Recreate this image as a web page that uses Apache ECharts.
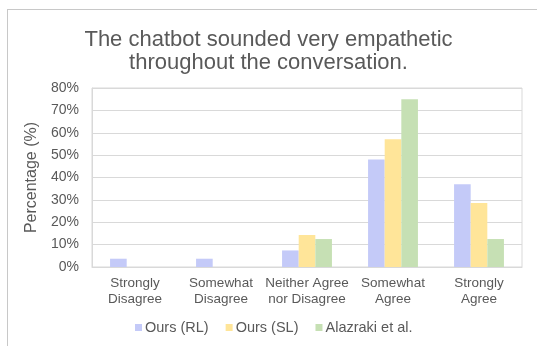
<!DOCTYPE html>
<html>
<head>
<meta charset="utf-8">
<script src="https://cdn.jsdelivr.net/npm/echarts@6/dist/echarts.min.js"></script>
<style>
html,body{margin:0;padding:0;background:#fff;}
#chart{width:537px;height:346px;}
</style>
</head>
<body>
<div id="chart"></div>
<script>
const titleText = 'The chatbot sounded very empathetic\nthroughout the conversation.';
const categories = ['Strongly\nDisagree', 'Somewhat\nDisagree', 'Neither Agree\nnor Disagree', 'Somewhat\nAgree', 'Strongly\nAgree'];
const seriesNames = ['Ours (RL)', 'Ours (SL)', 'Alazraki et al.'];
const oursRL = [3.7, 3.7, 7.4, 48.1, 37.0];
const oursSL = [0, 0, 14.3, 57.1, 28.6];
const alazraki = [0, 0, 12.5, 75.0, 12.5];
const yTicks = [0, 10, 20, 30, 40, 50, 60, 70, 80];
const colors = ['#C4CAF8', '#FFE599', '#C6E0B4'];

const font = 'Liberation Sans, Arial, sans-serif';
const chart = echarts.init(document.getElementById('chart'), null, {renderer: 'canvas'});
const values = [oursRL, oursSL, alazraki];
chart.setOption({
  animation: false,
  backgroundColor: '#fff',
  color: colors,
  title: {
    text: titleText,
    left: 'center',
    top: 23,
    textStyle: {fontFamily: font, fontSize: 22, fontWeight: 'normal', color: '#595959', lineHeight: 23}
  },
  graphic: [
    {type: 'line', shape: {x1: 7, y1: 9.5, x2: 537, y2: 9.5}, style: {stroke: '#c8c8c8', lineWidth: 1}},
    {type: 'line', shape: {x1: 7.5, y1: 9, x2: 7.5, y2: 346}, style: {stroke: '#c8c8c8', lineWidth: 1}}
  ],
  legend: {
    data: seriesNames,
    bottom: 6,
    left: 130,
    itemWidth: 7,
    itemHeight: 7,
    itemGap: 17,
    icon: 'rect',
    textStyle: {fontFamily: font, fontSize: 14.5, color: '#595959', padding: [0, 0, 0, -2]}
  },
  grid: {left: 92, right: 15, top: 88, bottom: 79, show: true, borderColor: '#d9d9d9', borderWidth: 1},
  xAxis: {
    type: 'category',
    data: categories,
    axisLine: {show: true, lineStyle: {color: '#d9d9d9'}},
    axisTick: {show: false},
    axisLabel: {fontFamily: font, fontSize: 13.5, color: '#595959', lineHeight: 16, margin: 8, interval: 0}
  },
  yAxis: {
    type: 'value',
    min: yTicks[0],
    max: yTicks[yTicks.length - 1],
    interval: yTicks[1] - yTicks[0],
    name: 'Percentage (%)',
    nameLocation: 'middle',
    nameGap: 42,
    nameTextStyle: {fontFamily: font, fontSize: 16, color: '#595959'},
    axisLine: {show: true, lineStyle: {color: '#d9d9d9'}},
    axisTick: {show: false},
    splitLine: {lineStyle: {color: '#d9d9d9'}},
    axisLabel: {fontFamily: font, fontSize: 14, color: '#595959', margin: 13, formatter: '{value}%'}
  },
  series: seriesNames.map((n, i) => ({
    name: n,
    type: 'bar',
    data: values[i],
    barGap: '0%',
    barCategoryGap: '42%',
    itemStyle: {color: colors[i]}
  }))
});
</script>
</body>
</html>
